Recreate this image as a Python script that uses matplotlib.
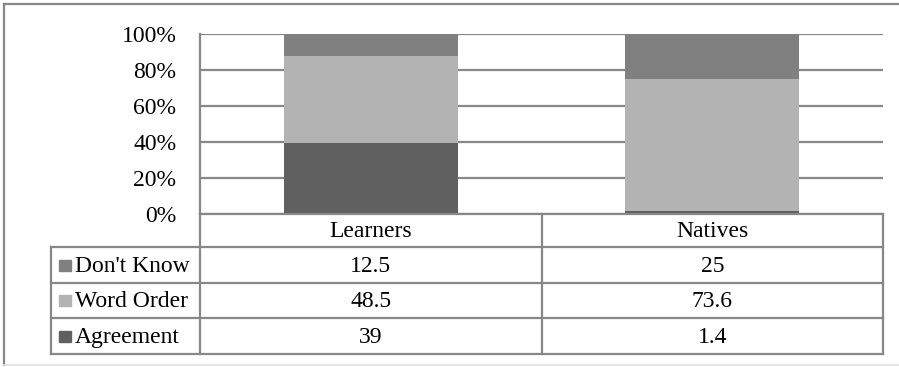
import matplotlib.pyplot as plt
from matplotlib.lines import Line2D
from matplotlib.patches import Rectangle

plt.rcParams['font.family'] = 'serif'
plt.rcParams['font.serif'] = ['Liberation Serif', 'DejaVu Serif']

groups = ['Learners', 'Natives']
series = ["Don't Know", 'Word Order', 'Agreement']
dont_know = [12.5, 25]
word_order = [48.5, 73.6]
agreement = [39, 1.4]
yticks = [0, 20, 40, 60, 80, 100]
colors = {"Don't Know": '#808080', 'Word Order': '#b3b3b3', 'Agreement': '#606060'}

W, H = 899, 367
fig = plt.figure(figsize=(W / 100, H / 100), dpi=100)
fs = 17
grid_c = '#878787'

# plot area (pixel box converted to figure fractions)
px_l, px_r, px_t, px_b = 200, 883, 34, 213.5
ax = fig.add_axes([px_l / W, 1 - px_b / H, (px_r - px_l) / W, (px_b - px_t) / H])

x = range(len(groups))
vals = {"Don't Know": dont_know, 'Word Order': word_order, 'Agreement': agreement}
bottom = [0] * len(groups)
for name in ['Agreement', 'Word Order', "Don't Know"]:
    ax.bar(x, vals[name], 0.51, bottom=bottom, color=colors[name], zorder=3)
    bottom = [b + v for b, v in zip(bottom, vals[name])]

ax.set_xlim(-0.5, 1.5)
ax.set_ylim(0, 100)
ax.set_yticks(yticks)
ax.set_yticklabels([f'{t}%' for t in yticks], fontsize=fs)
ax.set_xticks([])
ax.tick_params(axis='y', length=0, pad=17)
for t in yticks:
    ax.axhline(t, color=grid_c, lw=1.6, zorder=1)
for s in ['top', 'right', 'bottom']:
    ax.spines[s].set_visible(False)
ax.spines['left'].set_color(grid_c)
ax.spines['left'].set_linewidth(1.6)

# data table under the plot, laid out in pixel units
tx_l = 51
col_edges = [px_l, (px_l + px_r) / 2, px_r]
row_edges = [px_b, 247, 283, 318, 354]
tax = fig.add_axes([tx_l / W, 1 - row_edges[-1] / H, (px_r - tx_l) / W,
                    (row_edges[-1] - row_edges[0]) / H])
tax.set_xlim(tx_l, px_r)
tax.set_ylim(row_edges[-1], row_edges[0])
tax.axis('off')

lk = dict(color=grid_c, lw=1.6, clip_on=False)
tax.plot([px_l, px_r], [row_edges[0]] * 2, **lk)
for y in row_edges[1:]:
    tax.plot([tx_l, px_r], [y, y], **lk)
tax.plot([tx_l, tx_l], [row_edges[1], row_edges[-1]], **lk)
for cx in col_edges:
    tax.plot([cx, cx], [row_edges[0], row_edges[-1]], **lk)

for i, g in enumerate(groups):
    cx = (col_edges[i] + col_edges[i + 1]) / 2
    tax.text(cx, (row_edges[0] + row_edges[1]) / 2 + 1, g, ha='center', va='center', fontsize=fs)
    for j, name in enumerate(series):
        cy = (row_edges[j + 1] + row_edges[j + 2]) / 2 + 1
        v = vals[name][i]
        tax.text(cx, cy, f'{v:g}', ha='center', va='center', fontsize=fs)

for j, name in enumerate(series):
    cy = (row_edges[j + 1] + row_edges[j + 2]) / 2
    tax.add_patch(Rectangle((59, cy - 5.5), 12, 11, color=colors[name], clip_on=False))
    tax.text(75, cy + 1, name, ha='left', va='center', fontsize=fs)

# chart frame
fig.add_artist(Line2D([4 / W, 1], [1 - 4 / H] * 2, color=grid_c, lw=1.6))
fig.add_artist(Line2D([4 / W] * 2, [1 - 4 / H, 1 - 365 / H], color=grid_c, lw=1.6))
fig.add_artist(Line2D([4 / W, 1], [1 - 365 / H] * 2, color='#e0e0e0', lw=1.2))

fig.savefig('out.png', dpi=100, facecolor='white')
